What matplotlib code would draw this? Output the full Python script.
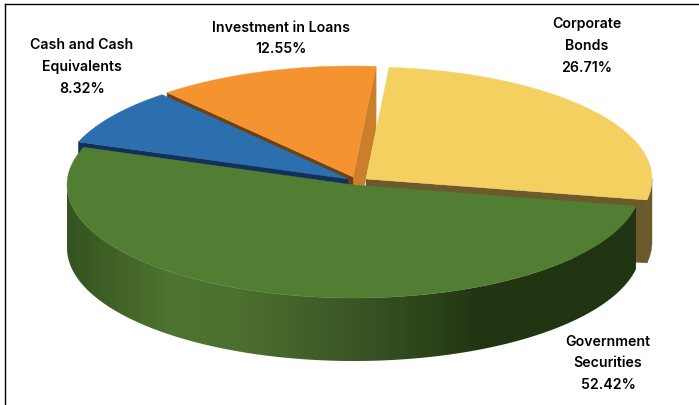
import numpy as np
import matplotlib
matplotlib.use('Agg')
import matplotlib.pyplot as plt
from matplotlib.colors import LinearSegmentedColormap
from matplotlib.patches import Polygon

names = ['Government\nSecurities', 'Corporate\nBonds', 'Investment in Loans', 'Cash and Cash\nEquivalents']
shares = [52.42, 26.71, 12.55, 8.32]

# pie geometry in picture pixels
start_angle = 160.5
depth = 63
centers = [(354, 186), (366, 180), (353, 178), (348, 180)]
radii = [(287, 113), (286, 112), (286, 111), (286, 111)]
top_colors = ['#527E33', '#F4D061', '#F59331', '#2C6FAF']
label_pos = [(608, 363.5), (587, 46), (281, 38.5), (82, 67)]

fig = plt.figure(figsize=(6.99, 4.06), dpi=100)
ax = fig.add_axes([0, 0, 1, 1])
ax.set_xlim(0, 699)
ax.set_ylim(406, 0)
ax.axis('off')

spans = [s / sum(shares) * 360 for s in shares]
starts = start_angle + np.cumsum([0] + spans[:-1])


def arc(i, a0, a1, dy=0):
    t = np.radians(np.linspace(a0, a1, 120))
    cx, cy = centers[i]
    rx, ry = radii[i]
    return np.column_stack([cx + rx * np.cos(t), cy - ry * np.sin(t) + dy])


def radial_face(i, a, color, z):
    tip = arc(i, a, a)[0]
    cx, cy = centers[i]
    pts = [(cx, cy), tip, (tip[0], tip[1] + depth), (cx, cy + depth)]
    ax.add_patch(Polygon(pts, closed=True, fc=color, ec=color, lw=0.3, zorder=z))


def top(i, z):
    pts = np.vstack([[centers[i]], arc(i, starts[i], starts[i] + spans[i])])
    ax.add_patch(Polygon(pts, closed=True, fc=top_colors[i], ec=top_colors[i], lw=0.3, zorder=z))


# orange slice
radial_face(2, starts[2], '#CB7F2A', 1)
radial_face(2, starts[2] + spans[2], '#6A4215', 1)
top(2, 2)

# blue slice
radial_face(3, starts[3] + spans[3], '#12305A', 3)
top(3, 4)

# yellow slice
radial_face(1, starts[1], '#6C5A2D', 5)
t_end = starts[1] + 10.8
outer = np.vstack([arc(1, starts[1], t_end), arc(1, t_end, starts[1], depth)])
ax.add_patch(Polygon(outer, closed=True, fc='#6C5A2D', ec='#6C5A2D', lw=0.3, zorder=5))
top(1, 6)

# green slice, front wall with a horizontal shade
wall_pts = np.vstack([arc(0, 180, starts[0] + spans[0]), arc(0, starts[0] + spans[0], 180, depth)])
wall_clip = Polygon(wall_pts, closed=True, transform=ax.transData)
shade = LinearSegmentedColormap.from_list('wall', [
    (0.0, '#35531F'), (0.18, '#4E7530'), (0.30, '#4C7030'),
    (0.52, '#395424'), (0.72, '#223613'), (1.0, '#203412')])
img = ax.imshow(np.linspace(0, 1, 300).reshape(1, -1), cmap=shade, aspect='auto',
                extent=(67, 637, 406, 150), zorder=7)
img.set_clip_path(wall_clip)
ax.set_xlim(0, 699)
ax.set_ylim(406, 0)
top(0, 8)

# frame on the top and left only
ax.plot([4.5, 699], [4.5, 4.5], color='black', lw=1, zorder=9)
ax.plot([4.5, 4.5], [4.5, 406], color='black', lw=1, zorder=9)

for name, share, (x, y) in zip(names, shares, label_pos):
    ax.text(x, y, f'{name}\n{share:.2f}%', ha='center', va='center', fontsize=10.2,
            family='Inter', fontweight='semibold', color='black', linespacing=1.72, zorder=10)

plt.savefig('out.png', dpi=100)
